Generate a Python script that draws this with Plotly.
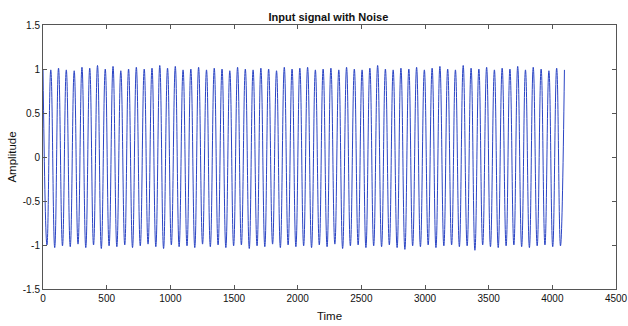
import plotly.graph_objects as go

# Extremum times (peaks)
peak_times = [0, 61, 122, 183, 245, 306, 367, 428, 489, 550,
              611, 672, 733, 795, 856, 917, 978, 1039, 1100, 1161,
              1222, 1284, 1345, 1406, 1467, 1528, 1589, 1650, 1711, 1772,
              1834, 1895, 1956, 2017, 2078, 2139, 2200, 2261, 2323, 2384,
              2445, 2506, 2567, 2628, 2689, 2750, 2811, 2873, 2934, 2995,
              3056, 3117, 3178, 3239, 3300, 3362, 3423, 3484, 3545, 3606,
              3667, 3728, 3789, 3850, 3912, 3973, 4034, 4095]
peak_values = [1.00, 0.99, 1.01, 0.99, 0.98, 1.02, 1.01, 1.04, 1.00, 1.03,
               0.98, 1.00, 1.02, 1.00, 1.01, 1.04, 1.01, 1.03, 0.99, 1.00,
               1.02, 0.99, 1.01, 1.00, 0.98, 1.02, 1.00, 0.99, 1.01, 1.00,
               0.98, 1.02, 1.00, 1.01, 1.02, 0.99, 1.00, 1.01, 0.99, 1.02,
               1.00, 0.99, 1.01, 1.04, 1.00, 0.99, 1.01, 1.00, 1.02, 0.99,
               1.01, 1.03, 1.00, 0.99, 1.04, 1.01, 1.00, 1.02, 0.99, 1.01,
               1.00, 1.03, 0.99, 1.02, 1.00, 0.98, 1.01, 0.99]
trough_times = [31, 92, 153, 214, 275, 336, 397, 458, 519, 580,
                642, 703, 764, 825, 886, 947, 1008, 1069, 1131, 1192,
                1253, 1314, 1375, 1436, 1497, 1558, 1620, 1681, 1742, 1803,
                1864, 1925, 1986, 2047, 2109, 2170, 2231, 2292, 2353, 2414,
                2475, 2536, 2597, 2659, 2720, 2781, 2842, 2903, 2964, 3025,
                3086, 3148, 3209, 3270, 3331, 3392, 3453, 3514, 3575, 3637,
                3698, 3759, 3820, 3881, 3942, 4003, 4064]
trough_values = [-1.00, -1.03, -1.01, -1.02, -0.99, -1.03, -1.00, -1.04, -1.01, -1.02,
                 -1.00, -1.03, -1.01, -0.99, -1.02, -1.04, -1.00, -1.02, -1.01, -1.03,
                 -0.99, -1.02, -1.00, -1.03, -1.01, -1.00, -1.04, -1.01, -1.02, -0.99,
                 -1.03, -1.00, -1.02, -1.01, -1.03, -1.00, -1.02, -0.99, -1.04, -1.01,
                 -1.00, -1.03, -1.01, -1.02, -1.00, -1.03, -1.05, -1.01, -1.02, -1.00,
                 -1.03, -1.01, -1.00, -1.02, -1.01, -1.06, -1.00, -1.02, -1.03, -1.01,
                 -1.00, -1.02, -1.03, -1.01, -1.00, -1.02, -1.01]

x_tick_vals = [0, 500, 1000, 1500, 2000, 2500, 3000, 3500, 4000, 4500]
x_tick_text = ["0", "500", "1000", "1500", "2000", "2500", "3000", "3500", "4000", "4500"]
y_tick_vals = [-1.5, -1, -0.5, 0, 0.5, 1, 1.5]
y_tick_text = ["-1.5", "-1", "-0.5", "0", "0.5", "1", "1.5"]

# interleave peaks and troughs in time order
t = []
a = []
for i in range(len(peak_times)):
    t.append(peak_times[i]); a.append(peak_values[i])
    if i < len(trough_times):
        t.append(trough_times[i]); a.append(trough_values[i])

fig = go.Figure(go.Scatter(x=t, y=a, mode="lines",
                           line=dict(color="#2a44c4", width=1, shape="spline", smoothing=1.3)))

FONT = "Liberation Sans, Arial"
axis_common = dict(showgrid=False, zeroline=False, showline=True, mirror="ticks",
                   linecolor="#555555", linewidth=1, ticks="inside", ticklen=4,
                   tickcolor="#555555", automargin=False,
                   tickfont=dict(family=FONT, size=10, color="#111111"))

fig.update_layout(
    width=628, height=326,
    margin=dict(l=43, r=12, t=25, b=37),
    paper_bgcolor="white", plot_bgcolor="white",
    showlegend=False,
    title=dict(text="<b>Input signal with Noise</b>", x=0.523, xanchor="center",
               y=0.948, yanchor="middle",
               font=dict(family=FONT, size=11, color="#111111")),
    xaxis=dict(range=[0, 4500], tickvals=x_tick_vals, ticktext=x_tick_text,
               title=dict(text="Time", standoff=8,
                          font=dict(family=FONT, size=11.5, color="#111111")),
               **axis_common),
    yaxis=dict(range=[-1.5, 1.5], tickvals=y_tick_vals, ticktext=y_tick_text,
               title=dict(text="Amplitude", standoff=3,
                          font=dict(family=FONT, size=11.5, color="#111111")),
               **axis_common),
)

fig.write_html("out.html")
